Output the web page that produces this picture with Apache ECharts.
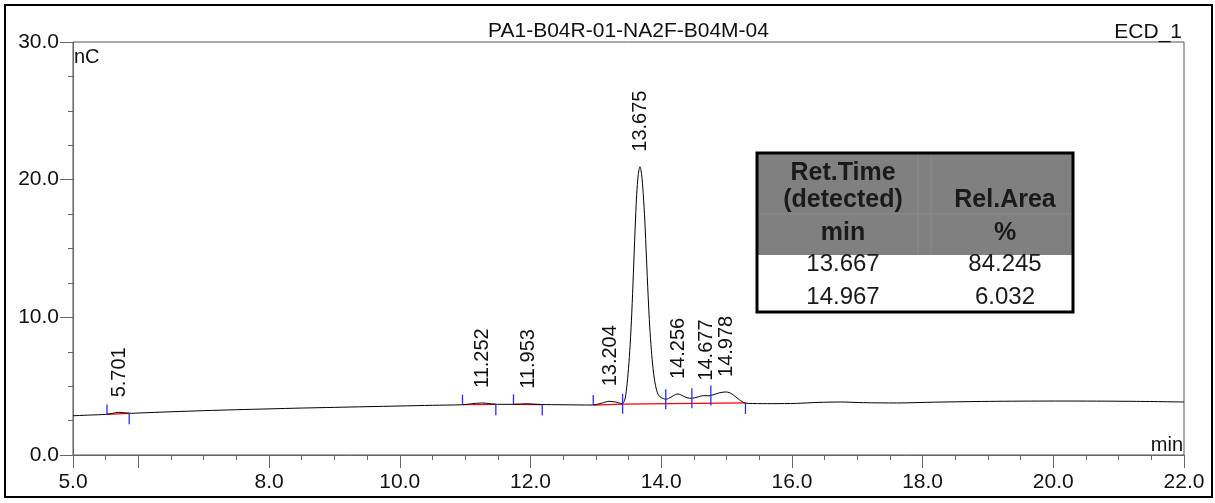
<!DOCTYPE html>
<html>
<head>
<meta charset="utf-8">
<script src="https://cdn.jsdelivr.net/npm/echarts@6/dist/echarts.min.js"></script>
<style>
html,body{margin:0;padding:0;background:#fff;}
#chart{width:1215px;height:503px;}
</style>
</head>
<body>
<div id="chart"></div>
<script>
// ---- data ----
const chartTitle = 'PA1-B04R-01-NA2F-B04M-04';
const channelName = 'ECD_1';
const yUnit = 'nC';
const xUnit = 'min';
const xTickLabels = [5, 8, 10, 12, 14, 16, 18, 20, 22];
const xMajorTicks = [5, 6, 8, 10, 12, 14, 16, 18, 20, 22];
const yTickLabels = [0, 10, 20, 30];

// chromatogram trace [time (min), signal (nC)]
const trace = [
  [5.00,2.85],[5.25,2.90],[5.50,2.95],[5.60,3.02],[5.70,3.10],[5.80,3.06],[5.90,3.03],
  [6.00,3.05],[6.50,3.14],[7.00,3.22],[7.50,3.29],[8.00,3.35],[8.50,3.41],[9.00,3.46],
  [9.50,3.51],[10.00,3.56],[10.50,3.61],[10.95,3.65],[11.10,3.72],[11.25,3.78],[11.40,3.72],
  [11.50,3.68],[11.75,3.68],[11.95,3.72],[12.15,3.67],[12.50,3.65],[12.95,3.63],[13.10,3.78],
  [13.20,3.90],[13.30,3.85],[13.40,3.74],[13.44,3.95],[13.47,4.8],[13.50,6.3],[13.525,8.0],
  [13.55,10.3],[13.575,13.2],[13.60,16.3],[13.625,18.9],[13.65,20.4],[13.675,20.94],
  [13.70,20.4],[13.725,19.0],[13.75,17.0],[13.775,14.3],[13.80,11.6],[13.825,9.3],
  [13.85,7.6],[13.875,6.3],[13.90,5.4],[13.93,4.7],[13.96,4.35],[14.00,4.17],[14.07,4.05],
  [14.15,4.20],[14.22,4.40],[14.26,4.43],[14.32,4.32],[14.40,4.15],[14.47,4.12],[14.55,4.20],
  [14.65,4.31],[14.72,4.30],[14.78,4.35],[14.88,4.50],[14.98,4.58],[15.05,4.52],[15.12,4.30],
  [15.20,4.00],[15.28,3.78],[15.40,3.74],[15.70,3.73],[16.07,3.75],[16.40,3.82],[16.74,3.85],
  [17.10,3.80],[17.60,3.78],[18.20,3.84],[19.13,3.90],[20.15,3.92],[21.17,3.90],[22.00,3.85]
];

// peak labels [retention time, apex signal]
const peakTimes   = [5.701, 11.252, 11.953, 13.204, 13.675, 14.256, 14.677, 14.978];
const peakHeights = [3.10, 3.78, 3.72, 3.90, 20.94, 4.43, 4.31, 4.58];

// integration baselines [t1, v1, t2, v2]
const baselines = [
  [5.52, 2.95, 5.86, 3.03],
  [10.96, 3.65, 11.47, 3.68],
  [11.74, 3.68, 12.18, 3.66],
  [12.96, 3.63, 13.41, 3.70],
  [13.41, 3.70, 15.29, 3.78]
];

// peak delimiters [time, signal, kind] kind: 1 = up, -1 = down, 0 = crossing
const delimiters = [
  [5.52, 2.95, 1], [5.86, 3.03, -1], [10.96, 3.65, 1], [11.47, 3.68, -1],
  [11.74, 3.68, 1], [12.18, 3.66, -1], [12.96, 3.63, 1], [13.41, 3.72, 0],
  [14.07, 4.05, 0], [14.47, 4.12, 0], [14.76, 4.33, 0], [15.29, 3.78, -1]
];

// report table
const tableHeaderLeft = ['Ret.Time', '(detected)', 'min'];
const tableHeaderRight = ['Rel.Area', '%'];
const tableRetTimes = ['13.667', '14.967'];
const tableRelAreas = ['84.245', '6.032'];

// ---- chart ----
const FONT = 'Liberation Sans, Arial, sans-serif';
const chart = echarts.init(document.getElementById('chart'), null, {renderer: 'canvas'});

const tableGraphic = [];
tableGraphic.push({type:'rect', shape:{x:757, y:154, width:316, height:101}, style:{fill:'#808080'}, z:10});
tableGraphic.push({type:'line', shape:{x1:757, y1:214, x2:1073, y2:214}, style:{stroke:'#8c8c8c', lineWidth:1}, z:11});
tableGraphic.push({type:'line', shape:{x1:918, y1:155, x2:918, y2:255}, style:{stroke:'#8c8c8c', lineWidth:1}, z:11});
tableGraphic.push({type:'line', shape:{x1:931, y1:155, x2:931, y2:255}, style:{stroke:'#8c8c8c', lineWidth:1}, z:11});
tableGraphic.push({type:'rect', shape:{x:757, y:255, width:316, height:56}, style:{fill:'#ffffff'}, z:10});
tableGraphic.push({type:'rect', shape:{x:757, y:153, width:316, height:159}, style:{fill:'none', stroke:'#000', lineWidth:3}, z:13});
const hdrLeftY = [173, 200, 233];
tableHeaderLeft.forEach((t, i) => tableGraphic.push({type:'text', x:843, y:hdrLeftY[i], z:12,
  style:{text:t, font:'bold 25px ' + FONT, fill:'#1a1a1a', align:'center', verticalAlign:'middle'}}));
const hdrRightY = [200, 233];
tableHeaderRight.forEach((t, i) => tableGraphic.push({type:'text', x:1005, y:hdrRightY[i], z:12,
  style:{text:t, font:'bold 25px ' + FONT, fill:'#1a1a1a', align:'center', verticalAlign:'middle'}}));
const rowY = [264, 297];
tableRetTimes.forEach((t, i) => tableGraphic.push({type:'text', x:843, y:rowY[i], z:12,
  style:{text:t, font:'24px ' + FONT, fill:'#1a1a1a', align:'center', verticalAlign:'middle'}}));
tableRelAreas.forEach((t, i) => tableGraphic.push({type:'text', x:1005, y:rowY[i], z:12,
  style:{text:t, font:'24px ' + FONT, fill:'#1a1a1a', align:'center', verticalAlign:'middle'}}));

const option = {
  animation: false,
  backgroundColor: '#ffffff',
  grid: {left: 73, right: 31, top: 42, bottom: 48, show: true, borderColor: '#555', borderWidth: 1, containLabel: false},
  xAxis: [{
    type: 'value', min: 5, max: 22, position: 'bottom',
    axisLine: {show: true, onZero: false, lineStyle: {color: '#666', width: 1}},
    axisTick: {show: true, customValues: xMajorTicks, length: 13, lineStyle: {color: '#666', width: 1}},
    axisLabel: {show: true, customValues: xTickLabels, formatter: v => Number(v).toFixed(1),
      fontSize: 21, fontFamily: FONT, color: '#111', margin: 17},
    splitLine: {show: false}
  }, {
    type: 'value', min: 5, max: 22, interval: 0.5, position: 'bottom',
    axisLine: {show: false},
    axisTick: {show: true, length: 5, lineStyle: {color: '#666', width: 1}},
    axisLabel: {show: false},
    splitLine: {show: false}
  }],
  yAxis: [{
    type: 'value', min: 0, max: 30, interval: 10,
    axisLine: {show: true, lineStyle: {color: '#666', width: 1}},
    axisTick: {show: true, length: 13, lineStyle: {color: '#666', width: 1}},
    minorTick: {show: true, splitNumber: 4, length: 5, lineStyle: {color: '#666', width: 1}},
    axisLabel: {formatter: v => Number(v).toFixed(1), fontSize: 21, fontFamily: FONT, color: '#111', margin: 14,
      customValues: yTickLabels},
    splitLine: {show: false}
  }],
  graphic: [
    {type:'rect', shape:{x:5, y:5, width:1207, height:492}, style:{fill:'none', stroke:'#000', lineWidth:2}, z:20},
    {type:'text', x:628.5, y:31, style:{text:chartTitle, font:'21px ' + FONT, fill:'#111', align:'center', verticalAlign:'middle'}},
    {type:'text', x:1182, y:32, style:{text:channelName, font:'21px ' + FONT, fill:'#111', align:'right', verticalAlign:'middle'}},
    {type:'text', x:74, y:57, style:{text:yUnit, font:'20px ' + FONT, fill:'#111', align:'left', verticalAlign:'middle'}},
    {type:'text', x:1183, y:445, style:{text:xUnit, font:'20px ' + FONT, fill:'#111', align:'right', verticalAlign:'middle'}}
  ].concat(tableGraphic),
  series: [
    {
      type: 'custom', name: 'baselines', xAxisIndex: 0, yAxisIndex: 0, silent: true, z: 3,
      data: baselines,
      renderItem: (params, api) => {
        const a = api.coord([api.value(0), api.value(1)]);
        const b = api.coord([api.value(2), api.value(3)]);
        return {type: 'line', shape: {x1: a[0], y1: a[1], x2: b[0], y2: b[1]}, style: {stroke: '#ff0000', lineWidth: 1.2}};
      }
    },
    {
      type: 'line', name: 'ECD_1', xAxisIndex: 0, yAxisIndex: 0, data: trace,
      showSymbol: false, symbol: 'none', smooth: 0.3, silent: true, z: 4,
      lineStyle: {color: '#000', width: 1}
    },
    {
      type: 'custom', name: 'delimiters', xAxisIndex: 0, yAxisIndex: 0, silent: true, z: 5,
      data: delimiters,
      renderItem: (params, api) => {
        const p = api.coord([api.value(0), api.value(1)]);
        const k = api.value(2);
        let y1, y2;
        if (k > 0) { y1 = p[1] - 10; y2 = p[1]; }
        else if (k < 0) { y1 = p[1]; y2 = p[1] + 11; }
        else { y1 = p[1] - 10; y2 = p[1] + 10; }
        return {type: 'line', shape: {x1: p[0], y1: y1, x2: p[0], y2: y2}, style: {stroke: '#2a2aff', lineWidth: 1.3}};
      }
    },
    {
      type: 'custom', name: 'peaklabels', xAxisIndex: 0, yAxisIndex: 0, silent: true, z: 6,
      data: peakTimes.map((t, i) => [t, peakHeights[i]]),
      renderItem: (params, api) => {
        const p = api.coord([api.value(0), api.value(1)]);
        return {type: 'text', x: p[0] + 1, y: p[1] - 15, rotation: Math.PI / 2,
          style: {text: peakTimes[params.dataIndex].toFixed(3), font: '20px ' + FONT, fill: '#111',
            align: 'left', verticalAlign: 'middle'}};
      }
    }
  ]
};
chart.setOption(option);
</script>
</body>
</html>
